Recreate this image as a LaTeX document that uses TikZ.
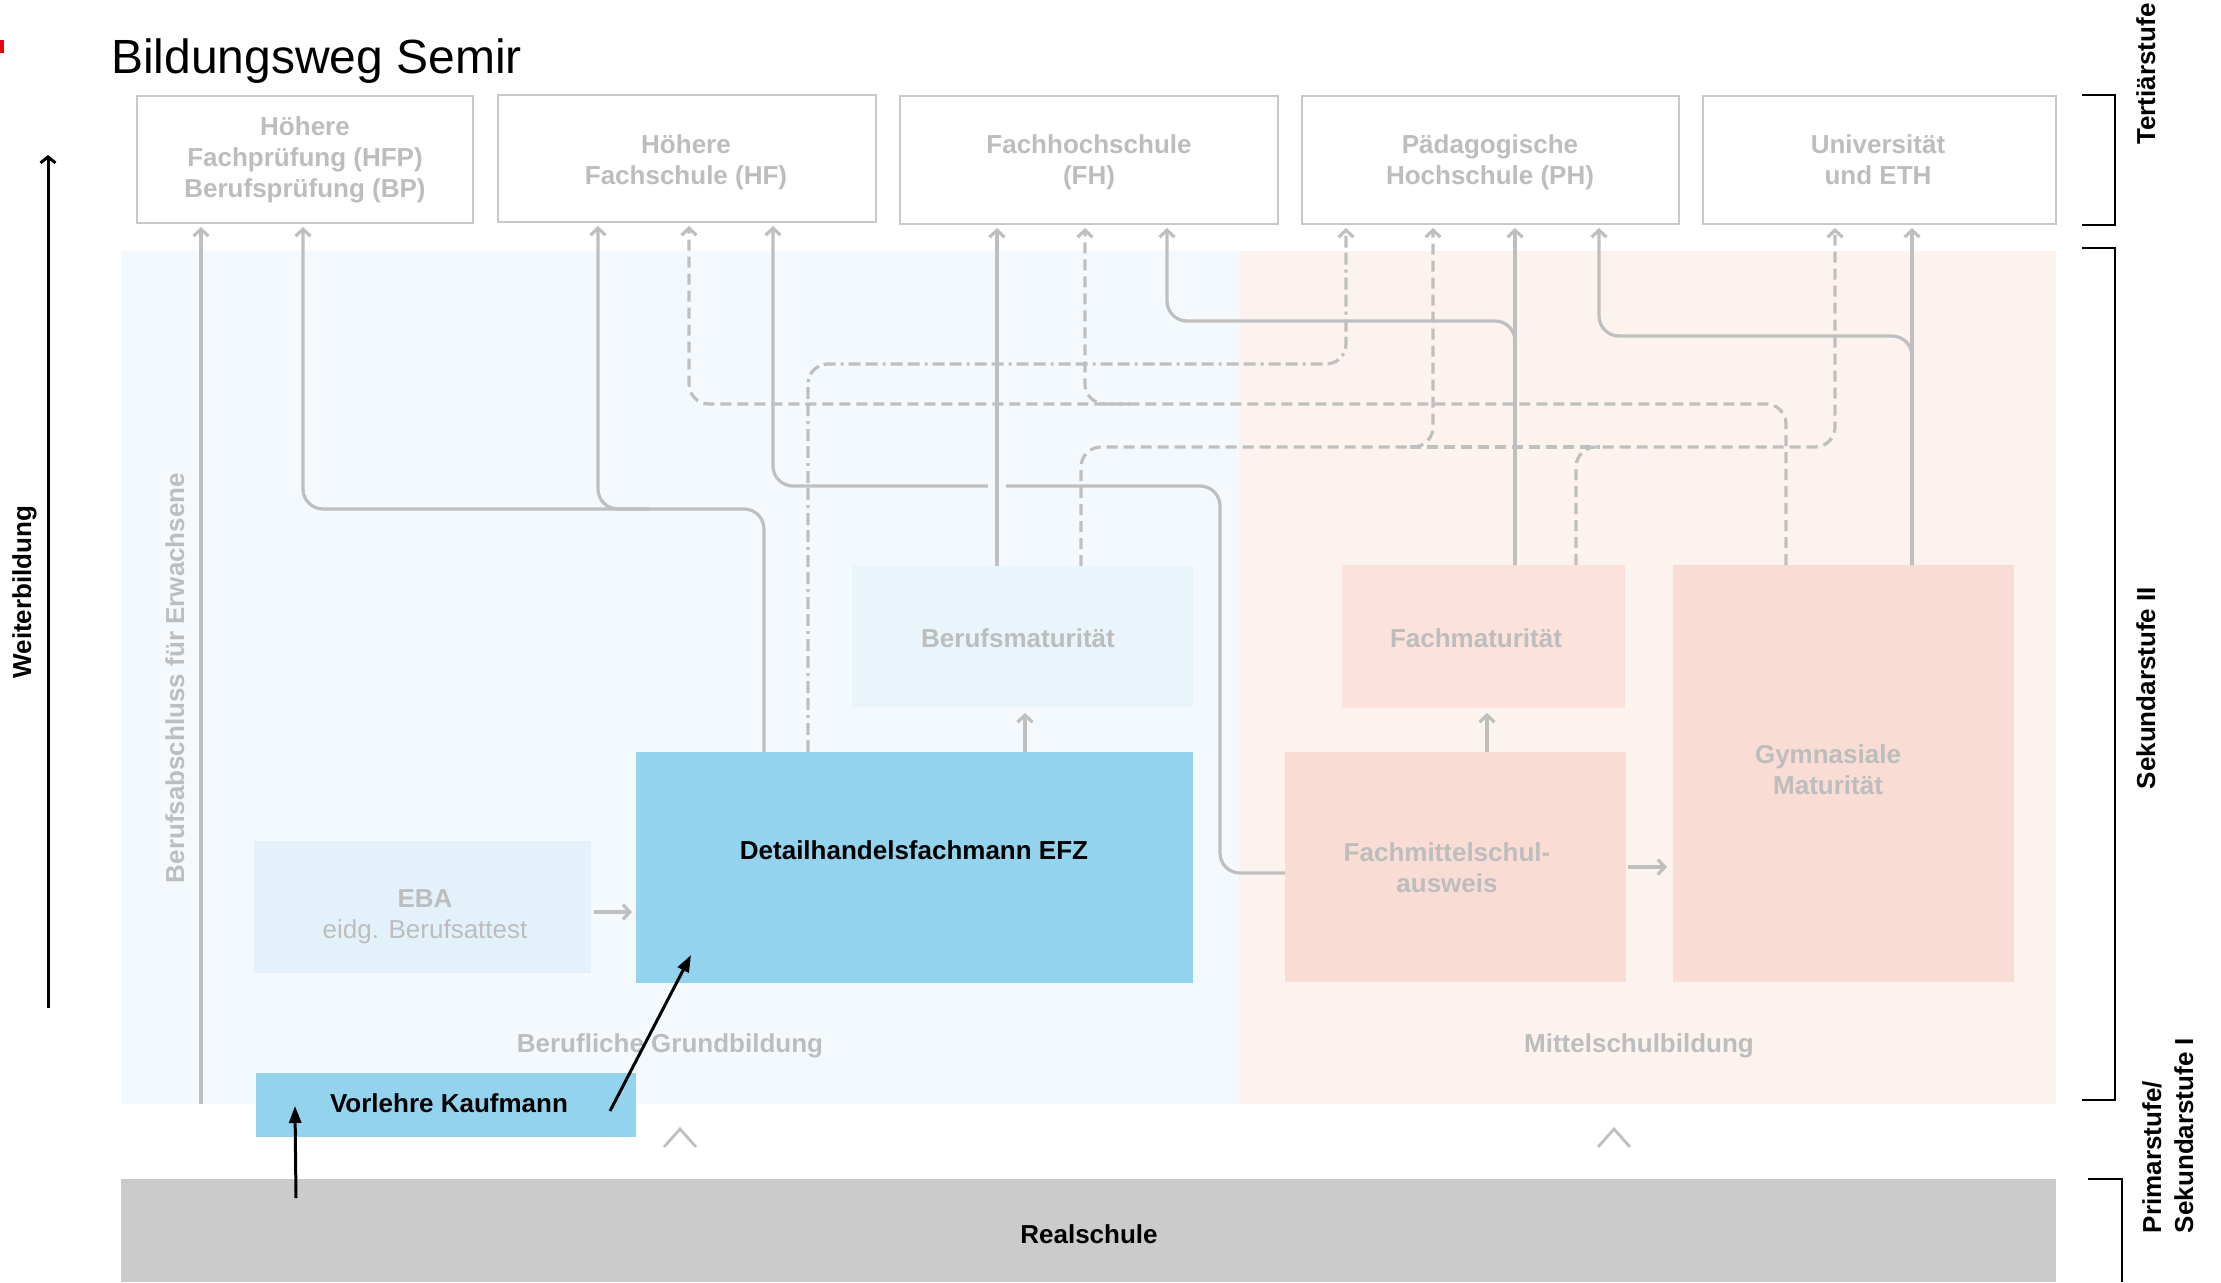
\documentclass[tikz,border=0pt]{standalone}
\usepackage{fontspec}
\setmainfont{Liberation Sans}
\usetikzlibrary{arrows.meta}
\definecolor{lgray}{HTML}{BFBFBF}
\definecolor{tgray}{HTML}{BDBDBD}
\definecolor{bordergray}{HTML}{C8C8C8}
\definecolor{panelblue}{HTML}{F3F9FC}
\definecolor{panelpink}{HTML}{FCF3EF}
\definecolor{bmblue}{HTML}{EAF5FB}
\definecolor{ebablue}{HTML}{E3F2FA}
\definecolor{strongblue}{HTML}{94D3EE}
\definecolor{fmpink}{HTML}{FBE3DC}
\definecolor{fmspink}{HTML}{F9DCD4}
\definecolor{realgray}{HTML}{CBCBCB}
\definecolor{markred}{HTML}{E30613}
\newcommand\fsA{\fontsize{26}{31}\selectfont}
\newcommand\stk[1]{\begin{tabular}[t]{@{}c@{}}#1\end{tabular}}
\begin{document}
\begin{tikzpicture}[x=1pt,y=-1pt,
  every node/.style={inner sep=0pt, outer sep=0pt},
  area/.style={rectangle, draw=none},
  tbox/.style={rectangle, draw=bordergray, line width=2.2pt, fill=white},
  gtext/.style={text=tgray, font=\fsA\bfseries, anchor=base},
  ktext/.style={text=black, font=\fsA\bfseries, anchor=base},
  side/.style={text=black, font=\fsA\bfseries, rotate=90},
  gline/.style={draw=lgray, line width=3.2pt, rounded corners=20pt},
  garr/.style={gline, -{Straight Barb[length=7pt,width=15pt]}, shorten >=4pt},
  dsh/.style={dash pattern=on 11pt off 6pt},
  dshdot/.style={dash pattern=on 12pt off 5pt on 12pt off 5pt on 3pt off 5pt},
  barr/.style={draw=black, line width=3pt, -{Triangle[length=17pt,width=12pt]}},
  warr/.style={draw=black, line width=3pt, -{Straight Barb[length=6pt,width=15pt]}},
  brk/.style={draw=black, line width=2.5pt},
  chev/.style={draw=lgray, line width=2.8pt},
]
\useasboundingbox (0,0) rectangle (2221,1282);
\fill[white] (0,0) rectangle (2221,1282);

% red mark and title
\fill[markred] (0,40) rectangle (4,53);
\node[anchor=base west, font=\fontsize{48}{58}\selectfont] (title) at (111,73) {Bildungsweg Semir};

% background panels
\node[area, fill=panelblue, minimum width=1118pt, minimum height=853pt] (bluepanel) at (680,677.5) {};
\node[area, fill=panelpink, minimum width=817pt, minimum height=853pt] (pinkpanel) at (1647.5,677.5) {};
\node[area, fill=realgray, minimum width=1935pt, minimum height=103pt] (real) at (1088.5,1230.5) {};

% tertiary boxes
\node[tbox, minimum width=336pt, minimum height=127pt] (b1) at (305,159.5) {};
\node[tbox, minimum width=378pt, minimum height=127pt] (b2) at (687,158.5) {};
\node[tbox, minimum width=378pt, minimum height=128pt] (b3) at (1089,160) {};
\node[tbox, minimum width=377pt, minimum height=128pt] (b4) at (1490.5,160) {};
\node[tbox, minimum width=353pt, minimum height=128pt] (b5) at (1879.5,160) {};

% secondary boxes
\node[area, fill=bmblue, minimum width=341pt, minimum height=141pt] (bm) at (1022.5,636.5) {};
\node[area, fill=strongblue, minimum width=557pt, minimum height=231pt] (det) at (914.5,867.5) {};
\node[area, fill=ebablue, minimum width=337pt, minimum height=132pt] (eba) at (422.5,907) {};
\node[area, fill=strongblue, minimum width=380pt, minimum height=64pt] (vk) at (446,1105) {};
\node[area, fill=fmpink, minimum width=283pt, minimum height=143pt] (fm) at (1483.5,636.5) {};
\node[area, fill=fmspink, minimum width=341pt, minimum height=230pt] (fms) at (1455.5,867) {};
\node[area, fill=fmspink, minimum width=341pt, minimum height=417pt] (gym) at (1843.5,773.5) {};

% grey connectors
\draw[garr] (bluepanel.south -| 201,0) -- (b1.south -| 201,0);
\draw[garr] (det.north -| 764,0) -- (764,509) -- (303,509) -- (b1.south -| 303,0);
\draw[garr] (650,509) -- (598,509) -- (b2.south -| 598,0);
\draw[garr] (fms.west |- 0,873) -- (1220,873) -- (1220,486) -- (773,486) -- (b2.south -| 773,0);
\fill[panelblue] (988,479) rectangle (1006,493);
\draw[garr] (bm.north -| 997,0) -- (b3.south -| 997,0);
\draw[garr,dsh] (gym.north -| 1786,0) -- (1786,404) -- (689,404) -- (b2.south -| 689,0);
\draw[garr,dsh] (1130,404) -- (1085,404) -- (b3.south -| 1085,0);
\draw[garr] (fm.north -| 1515,0) -- (b4.south -| 1515,0);
\draw[garr] (fm.north -| 1515,0) -- (1515,321) -- (1167,321) -- (b3.south -| 1167,0);
\draw[garr] (gym.north -| 1912,0) -- (b5.south -| 1912,0);
\draw[garr] (gym.north -| 1912,0) -- (1912,336) -- (1599,336) -- (b4.south -| 1599,0);
\draw[garr,dshdot] (det.north -| 808,0) -- (808,364) -- (1346,364) -- (b4.south -| 1346,0);
\draw[garr,dsh] (bm.north -| 1081,0) -- (1081,447) -- (1433,447) -- (b4.south -| 1433,0);
\draw[gline,dsh] (1410,447) -- (1600,447);
\draw[garr,dsh] (fm.north -| 1576,0) -- (1576,447) -- (1835,447) -- (b5.south -| 1835,0);

% short grey arrows between boxes
\draw[garr, shorten <=3pt] (eba.east |- 0,912) -- (det.west |- 0,912);
\draw[garr, shorten >=6pt] (det.north -| 1025,0) -- (bm.south -| 1025,0);
\draw[garr, shorten >=5pt] (fms.north -| 1487,0) -- (fm.south -| 1487,0);
\draw[garr, shorten <=2pt, shorten >=6pt] (fms.east |- 0,867) -- (gym.west |- 0,867);

% chevrons
\draw[chev] (664,1147) -- (680,1129) -- (696,1147);
\draw[chev] (1598,1147) -- (1614,1129) -- (1630,1147);

% texts in boxes
\node[gtext] (b1t) at (305,135) {\stk{Höhere\\Fachprüfung (HFP)\\Berufsprüfung (BP)}};
\node[gtext] (b2t) at (686,153) {\stk{Höhere\\Fachschule (HF)}};
\node[gtext] (b3t) at (1089,153) {\stk{Fachhochschule\\(FH)}};
\node[gtext] (b4t) at (1490,153) {\stk{Pädagogische\\Hochschule (PH)}};
\node[gtext] (b5t) at (1878,153) {\stk{Universität\\und ETH}};
\node[gtext] (bmt) at (1018,647) {Berufsmaturität};
\node[ktext] (dett) at (914,859) {Detailhandelsfachmann EFZ};
\node[gtext] (ebat) at (425,907) {\stk{EBA\\\mdseries eidg. Berufsattest}};
\node[ktext] (vkt) at (449,1112) {Vorlehre Kaufmann};
\node[gtext] (fmt) at (1476,647) {Fachmaturität};
\node[gtext] (fmst) at (1447,861) {\stk{Fachmittelschul-\\ausweis}};
\node[gtext] (gymt) at (1828,763) {\stk{Gymnasiale\\Maturität}};
\node[gtext] (bgt) at (670,1052) {Berufliche Grundbildung};
\node[gtext] (mbt) at (1639,1052) {Mittelschulbildung};
\node[ktext] (realt) at (1089,1243) {Realschule};
\node[gtext, rotate=90] (bfe) at (184,678) {Berufsabschluss für Erwachsene};

% black arrows of the path
\coordinate (rsA) at (296,1198);
\coordinate (vkA) at (295,1106);
\coordinate (vkB) at (610,1111);
\coordinate (detB) at (691,955);
\draw[barr] (rsA) -- (vkA);
\draw[barr] (vkB) -- (detB);

% Weiterbildung
\coordinate (wbot) at (48,1008);
\coordinate (wtop) at (48,155);
\draw[warr] (wbot) -- (wtop);
\node[side, anchor=base] (wb) at (31,592) {Weiterbildung};

% brackets and level labels
\draw[brk] (2082,95) -- (2115,95) -- (2115,225) -- (2082,225);
\draw[brk] (2082,248) -- (2115,248) -- (2115,1100) -- (2082,1100);
\draw[brk] (2088,1179) -- (2122,1179) -- (2122,1282);
\node[side, anchor=base] (tert) at (2155,74) {Tertiärstufe};
\node[side, anchor=base] (sek2) at (2155,688) {Sekundarstufe II};
\node[side, anchor=base west] (prim) at (2161,1233) {Primarstufe/};
\node[side, anchor=base west] (sek1) at (2193,1233) {Sekundarstufe I};
\end{tikzpicture}
\end{document}
